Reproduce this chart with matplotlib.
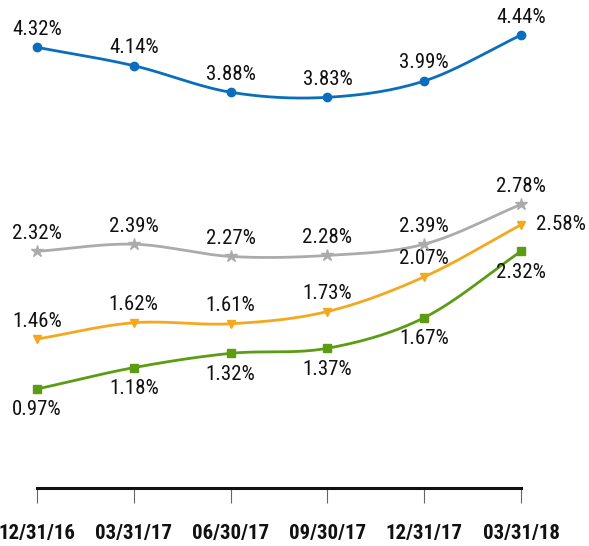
import numpy as np
import matplotlib
matplotlib.use("Agg")
import matplotlib.pyplot as plt

# Data
dates = ["12/31/16", "03/31/17", "06/30/17", "09/30/17", "12/31/17", "03/31/18"]
blue = [4.32, 4.14, 3.88, 3.83, 3.99, 4.44]
gray = [2.32, 2.39, 2.27, 2.28, 2.39, 2.78]
orange = [1.46, 1.62, 1.61, 1.73, 2.07, 2.58]
green = [0.97, 1.18, 1.32, 1.37, 1.67, 2.32]

plt.rcParams["font.family"] = ["Roboto Condensed", "DejaVu Sans"]


def smooth(y, n=30):
    # Catmull-Rom spline through the points, for drawing only
    y = np.asarray(y, float)
    p = np.concatenate([[2 * y[0] - y[1]], y, [2 * y[-1] - y[-2]]])
    xs, ys = [], []
    for i in range(1, len(p) - 2):
        t = np.linspace(0, 1, n, endpoint=False)
        p0, p1, p2, p3 = p[i - 1], p[i], p[i + 1], p[i + 2]
        seg = 0.5 * ((2 * p1) + (-p0 + p2) * t + (2 * p0 - 5 * p1 + 4 * p2 - p3) * t**2
                     + (-p0 + 3 * p1 - 3 * p2 + p3) * t**3)
        xs.append(i - 1 + t)
        ys.append(seg)
    xs.append([len(y) - 1])
    ys.append([y[-1]])
    return np.concatenate(xs), np.concatenate(ys)


fig = plt.figure(figsize=(5.89, 5.46), dpi=100)
ax = fig.add_axes([37 / 589, 58 / 546, (521 - 37) / 589, (488 - 10) / 546])
x = np.arange(len(dates))

series = [
    (blue, "#0a6ebd", "o", 6, "above"),
    (gray, "#ababab", "*", 9, "above"),
    (orange, "#f5a81e", "v", 6, "above"),
    (green, "#5b9c12", "s", 6, "below"),
]
for vals, col, mk, ms, pos in series:
    sx, sy = smooth(vals)
    ax.plot(sx, sy, color=col, lw=2, clip_on=False, zorder=3)
    ax.plot(x, vals, ls="none", marker=mk, ms=ms, color=col, clip_on=False, zorder=4)
    for i, v in enumerate(vals):
        if col == "#f5a81e" and i == len(vals) - 1:
            ax.annotate(f"{v:.2f}%", (i, v), xytext=(11, 0), textcoords="offset points",
                        ha="left", va="center", fontsize=15, color="#111111")
            continue
        dy = 13 if pos == "above" else -15
        ax.annotate(f"{v:.2f}%", (i, v), xytext=(0, dy), textcoords="offset points",
                    ha="center", va="center", fontsize=15, color="#111111")

ax.set_xlim(0, 5)
ax.set_ylim(0, 4.686)
for s in ["top", "right", "left"]:
    ax.spines[s].set_visible(False)
ax.spines["bottom"].set_linewidth(2.2)
ax.spines["bottom"].set_color("#111111")
ax.set_yticks([])
ax.set_xticks(x)
ax.set_xticklabels(dates, fontsize=15, fontweight="bold", color="#111111")
ax.tick_params(axis="x", length=10.5, width=0.8, color="#666666", pad=15.5)

fig.savefig("out.png", dpi=100)
